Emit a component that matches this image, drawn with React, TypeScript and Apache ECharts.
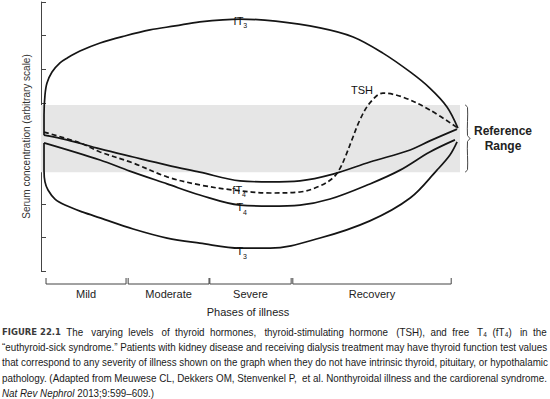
import React, { useEffect, useRef } from 'react';
import * as echarts from 'echarts';

// x: phase of illness timeline (0..100), y: serum concentration (arbitrary 0..8)
const fT3Points = [[0.72, 4.04], [0.72, 4.64], [0.95, 5.23], [1.43, 5.59], [2.63, 5.92], [4.53, 6.19], [6.2, 6.33], [9.3, 6.54], [14.1, 6.78], [20.0, 6.99], [26.0, 7.17], [32.0, 7.29], [37.9, 7.41], [47.5, 7.49], [56.0, 7.43], [66.6, 7.23], [74.5, 6.96], [81.6, 6.48], [88.1, 5.92], [92.8, 5.44], [96.9, 4.88], [99.5, 4.25]];
const fT4Points = [[0.72, 4.04], [6.2, 3.9], [14.1, 3.63], [22.0, 3.39], [30.1, 3.15], [37.9, 2.94], [47.5, 2.68], [54.7, 2.65], [61.8, 2.68], [69.7, 2.88], [78.5, 3.24], [88.1, 3.6], [92.8, 3.87], [99.3, 4.22]];
const tshPoints = [[0.72, 4.13], [9.3, 3.81], [14.1, 3.54], [22.0, 3.21], [30.1, 2.8], [37.9, 2.56], [45.8, 2.41], [54.7, 2.32], [61.8, 2.35], [66.6, 2.53], [69.7, 2.77], [71.4, 3.06], [72.8, 3.45], [74.2, 3.9], [76.1, 4.49], [78.5, 5.0], [81.6, 5.29], [86.4, 5.17], [92.8, 4.79], [99.5, 4.25]];
const t4Points = [[0.72, 3.81], [14.1, 3.3], [21.2, 2.97], [30.1, 2.59], [37.9, 2.26], [47.5, 1.96], [54.7, 1.93], [61.8, 1.96], [69.0, 2.14], [78.5, 2.59], [85.7, 3.0], [92.8, 3.54], [98.8, 3.9]];
const t3Points = [[0.72, 3.81], [0.72, 3.0], [0.95, 2.65], [1.67, 2.41], [3.34, 2.14], [5.73, 1.96], [10.0, 1.75], [14.1, 1.58], [22.0, 1.25], [30.1, 0.98], [37.9, 0.83], [47.5, 0.68], [54.7, 0.68], [66.6, 0.98], [78.5, 1.49], [88.1, 2.17], [94.5, 3.0], [97.6, 3.45], [99.3, 3.84]];

const refRange = [2.94, 4.94];

const curveLabels = ['{m|fT}{s|3}', '{m|fT}{s|4}', '{m|T}{s|4}', '{m|T}{s|3}', '{m|TSH}'];
const labelX = [47.6, 47.3, 47.9, 47.9, 76.6];
const labelY = [7.4, 2.37, 1.85, 0.55, 5.38];

const phases = ['Mild', 'Moderate', 'Severe', 'Recovery'];
const phaseStart = [1.2, 20.8, 40.3, 60.1];
const phaseEnd = [20.3, 40.1, 59.7, 97.9];

const yAxisName = 'Serum concentration (arbitrary scale)';
const xAxisName = 'Phases of illness';
const refLabel = 'Reference\nRange';

const captionLines = [
  '{fig|FIGURE 22.1} The varying levels of thyroid hormones, thyroid-stimulating hormone (TSH), and free T\u2084 (fT\u2084) in the',
  '\u201ceuthyroid-sick syndrome.\u201d Patients with kidney disease and receiving dialysis treatment may have thyroid function test values',
  'that correspond to any severity of illness shown on the graph when they do not have intrinsic thyroid, pituitary, or hypothalamic',
  'pathology. (Adapted from Meuwese CL, Dekkers OM, Stenvenkel P, et al. Nonthyroidal illness and the cardiorenal syndrome.',
  '{it|Nat Rev Nephrol} 2013;9:599\u2013609.)',
];
const captionJustified = [true, true, true, true, false];

export default function App() {
  const ref = useRef<HTMLDivElement>(null);
  useEffect(() => {
    document.body.style.margin = '0';
    const el = ref.current as HTMLDivElement;
    const chart = echarts.init(el, null, { renderer: 'svg' });
    const FONT = '"Liberation Sans", Arial, sans-serif';
    const CAP = '"Liberation Sans", Arial, sans-serif';
    const FIGFONT = '"DejaVu Sans", Verdana, sans-serif';
    const INK = '#151515';
    const CAPSIZE = 11;
    const FIGSIZE = 9.5;

    const line = (name: string, data: number[][], dashed = false) => ({
      type: 'line',
      name,
      data,
      smooth: 0.35,
      symbol: 'none',
      silent: true,
      z: 3,
      lineStyle: { color: INK, width: 1.7, type: dashed ? [5, 3] : 'solid' },
    });

    const option: any = {
      animation: false,
      color: [INK],
      grid: { left: 41, right: 90, top: 2, bottom: 128 },
      xAxis: { type: 'value', min: 0, max: 100, show: false },
      yAxis: {
        type: 'value',
        min: 0,
        max: 8,
        interval: 1,
        name: yAxisName,
        nameLocation: 'middle',
        nameGap: 10,
        nameTextStyle: { fontSize: 10, fontFamily: FONT, color: '#333' },
        axisLine: { show: true, lineStyle: { color: '#444', width: 1 } },
        axisTick: { show: true, inside: true, length: 5, lineStyle: { color: '#444' } },
        axisLabel: { show: false },
        splitLine: { show: false },
      },
      series: [
        {
          ...line('fT3', fT3Points),
          markArea: {
            silent: true,
            itemStyle: { color: '#e6e6e6' },
            data: [[{ yAxis: refRange[0] }, { yAxis: refRange[1] }]],
          },
        },
        line('fT4', fT4Points),
        line('TSH', tshPoints, true),
        line('T4', t4Points),
        line('T3', t3Points),
        {
          type: 'custom',
          silent: true,
          clip: false,
          z: 5,
          itemStyle: { color: '#111' },
          encode: { x: 0, y: 1 },
          data: curveLabels.map((n, i) => [labelX[i], labelY[i], i]),
          renderItem: (params: any, api: any) => {
            const p = api.coord([api.value(0), api.value(1)]);
            return {
              type: 'text',
              x: p[0],
              y: p[1],
              style: {
                text: curveLabels[api.value(2)],
                align: 'center',
                verticalAlign: 'middle',
                fill: '#111',
                fontFamily: FONT,
                fontSize: 11,
                rich: {
                  m: { fontFamily: FONT, fontSize: 11, fill: '#111', color: '#111', verticalAlign: 'top', lineHeight: 12 },
                  s: { fontFamily: FONT, fontSize: 7, fill: '#111', color: '#111', verticalAlign: 'bottom', lineHeight: 14 },
                },
              },
            };
          },
        },
        {
          type: 'custom',
          silent: true,
          clip: false,
          itemStyle: { color: '#444' },
          encode: { x: [0, 1] },
          data: phases.map((p, i) => [phaseStart[i], phaseEnd[i], i]),
          renderItem: (params: any, api: any) => {
            const s = api.coord([api.value(0), 0]);
            const e = api.coord([api.value(1), 0]);
            const top = s[1] + 7;
            const bot = s[1] + 13;
            return {
              type: 'group',
              children: [
                {
                  type: 'polyline',
                  shape: { points: [[s[0], top], [s[0], bot], [e[0], bot], [e[0], top]] },
                  style: { stroke: '#444', fill: null, lineWidth: 1 },
                },
                {
                  type: 'text',
                  x: (s[0] + e[0]) / 2,
                  y: bot + 10,
                  style: {
                    text: phases[api.value(2)],
                    align: 'center',
                    verticalAlign: 'middle',
                    fontSize: 11,
                    fontFamily: FONT,
                    fill: '#222',
                  },
                },
              ],
            };
          },
        },
      ],
    };
    chart.setOption(option);

    const pTop = chart.convertToPixel({ gridIndex: 0 }, [100, refRange[1]]) as number[];
    const pBot = chart.convertToPixel({ gridIndex: 0 }, [100, refRange[0]]) as number[];
    const bx = pTop[0] + 5;
    const yT = pTop[1];
    const yB = pBot[1];
    const mid = (yT + yB) / 2;
    const gBottom = (chart.convertToPixel({ gridIndex: 0 }, [0, 0]) as number[])[1];

    // text measurement for caption justification
    const cv = document.createElement('canvas');
    const ctx = cv.getContext('2d') as CanvasRenderingContext2D;
    const measure = (str: string) => {
      let w = 0;
      const re = /\{(\w+)\|([^}]*)\}|([^{]+)/g;
      let m: RegExpExecArray | null;
      while ((m = re.exec(str))) {
        if (m[1] === 'fig') {
          ctx.font = `bold ${FIGSIZE}px ${FIGFONT}`;
          w += ctx.measureText(m[2]).width;
        } else if (m[1] === 'it') {
          ctx.font = `italic ${CAPSIZE}px ${CAP}`;
          w += ctx.measureText(m[2]).width;
        } else {
          ctx.font = `${CAPSIZE}px ${CAP}`;
          w += ctx.measureText(m[3] || m[2] || '').width;
        }
      }
      return w;
    };
    ctx.font = `${CAPSIZE}px ${CAP}`;
    const spaceW = ctx.measureText(' ').width;
    const TARGET = 546;
    const baseScale = TARGET / measure(captionLines[1]);

    const padLine = (str: string) => {
      const w = measure(str);
      const extra = TARGET - w * baseScale;
      const nAdd = Math.max(0, Math.floor(extra / (spaceW * baseScale)));
      if (nAdd === 0) return str;
      const gaps: number[] = [];
      let depth = 0;
      for (let i = 0; i < str.length; i++) {
        const c = str[i];
        if (c === '{') depth++;
        else if (c === '}') depth--;
        else if (c === ' ' && depth === 0) gaps.push(i);
      }
      if (!gaps.length) return str;
      const counts = gaps.map(() => 0);
      for (let k = 0; k < nAdd; k++) counts[Math.floor(((k + 0.5) * gaps.length) / nAdd) % gaps.length]++;
      let out = '';
      let gi = 0;
      for (let i = 0; i < str.length; i++) {
        out += str[i];
        if (gi < gaps.length && gaps[gi] === i) {
          out += ' '.repeat(counts[gi]);
          gi++;
        }
      }
      return out;
    };

    const graphic: any[] = [
      {
        type: 'polyline',
        silent: true,
        shape: {
          points: [[bx, yT], [bx + 2.5, yT + 2.5], [bx + 2.5, mid - 3], [bx + 5, mid], [bx + 2.5, mid + 3], [bx + 2.5, yB - 2.5], [bx, yB]],
          smooth: 0.3,
        },
        style: { stroke: '#444', fill: null, lineWidth: 1 },
      },
      {
        type: 'text',
        silent: true,
        x: 503,
        y: mid,
        style: {
          text: refLabel,
          align: 'center',
          verticalAlign: 'middle',
          fontSize: 12,
          fontWeight: 'bold',
          lineHeight: 15,
          fontFamily: FONT,
          fill: '#222',
        },
      },
      {
        type: 'text',
        silent: true,
        x: 248,
        y: gBottom + 41,
        style: { text: xAxisName, align: 'center', verticalAlign: 'middle', fontSize: 11, fontFamily: FONT, fill: '#222' },
      },
    ];
    captionLines.forEach((t, i) => {
      const txt = captionJustified[i] ? padLine(t) : t;
      const sc = captionJustified[i] ? TARGET / measure(txt) : baseScale;
      graphic.push({
        type: 'text',
        silent: true,
        x: 2,
        y: 332 + i * 15.3,
        scaleX: sc,
        style: {
          text: txt,
          verticalAlign: 'middle',
          fontSize: CAPSIZE,
          fontFamily: CAP,
          fill: '#1a1a1a',
          rich: {
            fig: { fontFamily: FIGFONT, fontWeight: 'bold', fontSize: FIGSIZE, fill: '#3a3a3a' },
            it: { fontStyle: 'italic', fontSize: CAPSIZE, fontFamily: CAP, fill: '#1a1a1a' },
          },
        },
      });
    });
    chart.setOption({ graphic });

    return () => chart.dispose();
  }, []);
  return <div ref={ref} style={{ width: 550, height: 399 }} />;
}
